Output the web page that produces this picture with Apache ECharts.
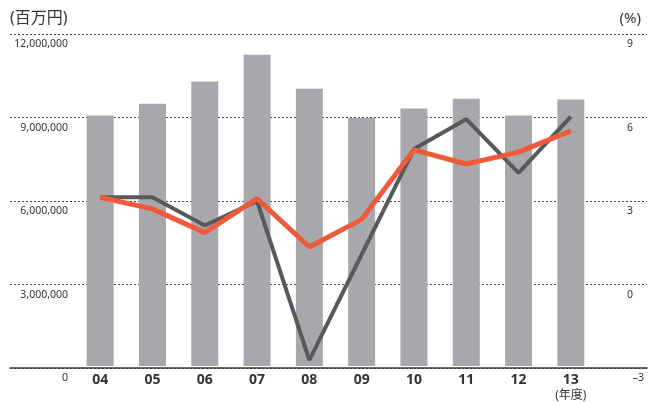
<!DOCTYPE html>
<html><head><meta charset="utf-8">
<script src="https://cdn.jsdelivr.net/npm/echarts@6/dist/echarts.min.js"></script>
<style>html,body{margin:0;padding:0;background:#fff}#c{width:649px;height:402px}</style>
</head><body><div id="c"></div>
<script>
const categories = ['04','05','06','07','08','09','10','11','12','13'];
const salesValues = [9050000, 9480000, 10280000, 11250000, 10020000, 8970000, 9310000, 9660000, 9050000, 9630000];
const darkLineValues = [3.10, 3.10, 2.08, 2.96, -2.79, 1.03, 4.84, 5.92, 3.98, 6.01];
const redLineValues = [3.10, 2.68, 1.82, 3.05, 1.30, 2.30, 4.81, 4.30, 4.73, 5.50];
const leftTicks = { min: 0, max: 12000000, interval: 3000000 };
const rightTicks = { min: -3, max: 9, interval: 3 };
const leftUnit = '(百万円)';
const rightUnit = '(%)';
const yearUnit = '(年度)';

const FONT = '"Noto Sans", "Noto Sans CJK JP", sans-serif';
const chart = echarts.init(document.getElementById('c'));
chart.setOption({
  animation: false,
  textStyle: { fontFamily: FONT },
  grid: [
    { left: 10, right: 2, top: 34, bottom: 34 },
    { left: 74, right: 52, top: 34, bottom: 34 }
  ],
  xAxis: [
    { gridIndex: 0, type: 'value', min: 0, max: 1, position: 'bottom',
      axisLine: { show: true, lineStyle: { color: '#3c3c3c', width: 1.5 } },
      axisTick: { show: false }, axisLabel: { show: false }, splitLine: { show: false } },
    { gridIndex: 1, type: 'category', data: categories,
      axisLine: { show: false }, axisTick: { show: false },
      axisLabel: { interval: 0, margin: 6, color: '#333',
        formatter: (v, i) => i === categories.length - 1 ? '{b|' + v + '}\n{u|' + yearUnit + '}' : '{b|' + v + '}',
        rich: {
          b: { fontSize: 14, fontWeight: 'bold', color: '#333', fontFamily: FONT, lineHeight: 17 },
          u: { fontSize: 12, color: '#333', fontFamily: FONT, lineHeight: 14 }
        } } }
  ],
  yAxis: [
    { gridIndex: 0, type: 'value', position: 'left', ...leftTicks,
      name: leftUnit, nameLocation: 'end', nameGap: 8,
      nameTextStyle: { align: 'left', fontSize: 16, color: '#333', fontFamily: FONT },
      axisLine: { show: false }, axisTick: { show: false },
      axisLabel: { inside: true, align: 'right', margin: 58, verticalAlign: 'top', padding: [5, 0, 0, 0],
        fontSize: 10.5, color: '#333', formatter: v => v.toLocaleString('en-US') },
      splitLine: { show: true, lineStyle: { color: '#444', width: 1, type: [2, 2] } } },
    { gridIndex: 0, type: 'value', position: 'right', ...rightTicks,
      name: rightUnit, nameLocation: 'end', nameGap: 8,
      nameTextStyle: { align: 'right', fontSize: 15, color: '#333', fontFamily: FONT, padding: [0, 6, 0, 0] },
      axisLine: { show: false }, axisTick: { show: false },
      axisLabel: { inside: true, align: 'right', margin: 3, verticalAlign: 'top', padding: [5, 0, 0, 0],
        fontSize: 10, color: '#333',
        formatter: v => v < 0 ? '{n|' + String(v).replace('-', '–') + '}' : '{p|' + v + '}',
        rich: {
          p: { fontSize: 10.5, color: '#333', fontFamily: FONT, padding: [0, 11, 0, 0] },
          n: { fontSize: 10.5, color: '#333', fontFamily: FONT }
        } },
      splitLine: { show: false } },
    { gridIndex: 1, type: 'value', ...leftTicks, show: false, splitLine: { show: false } },
    { gridIndex: 1, type: 'value', ...rightTicks, show: false, splitLine: { show: false } }
  ],
  series: [
    { type: 'bar', xAxisIndex: 1, yAxisIndex: 2, data: salesValues, barWidth: 27,
      itemStyle: { color: '#a7a8ab' } },
    { type: 'line', xAxisIndex: 1, yAxisIndex: 3, data: darkLineValues, symbol: 'none',
      lineStyle: { color: '#58595b', width: 4 } },
    { type: 'line', xAxisIndex: 1, yAxisIndex: 3, data: redLineValues, symbol: 'none',
      lineStyle: { color: '#f05a3c', width: 5 } }
  ]
});
</script></body></html>
